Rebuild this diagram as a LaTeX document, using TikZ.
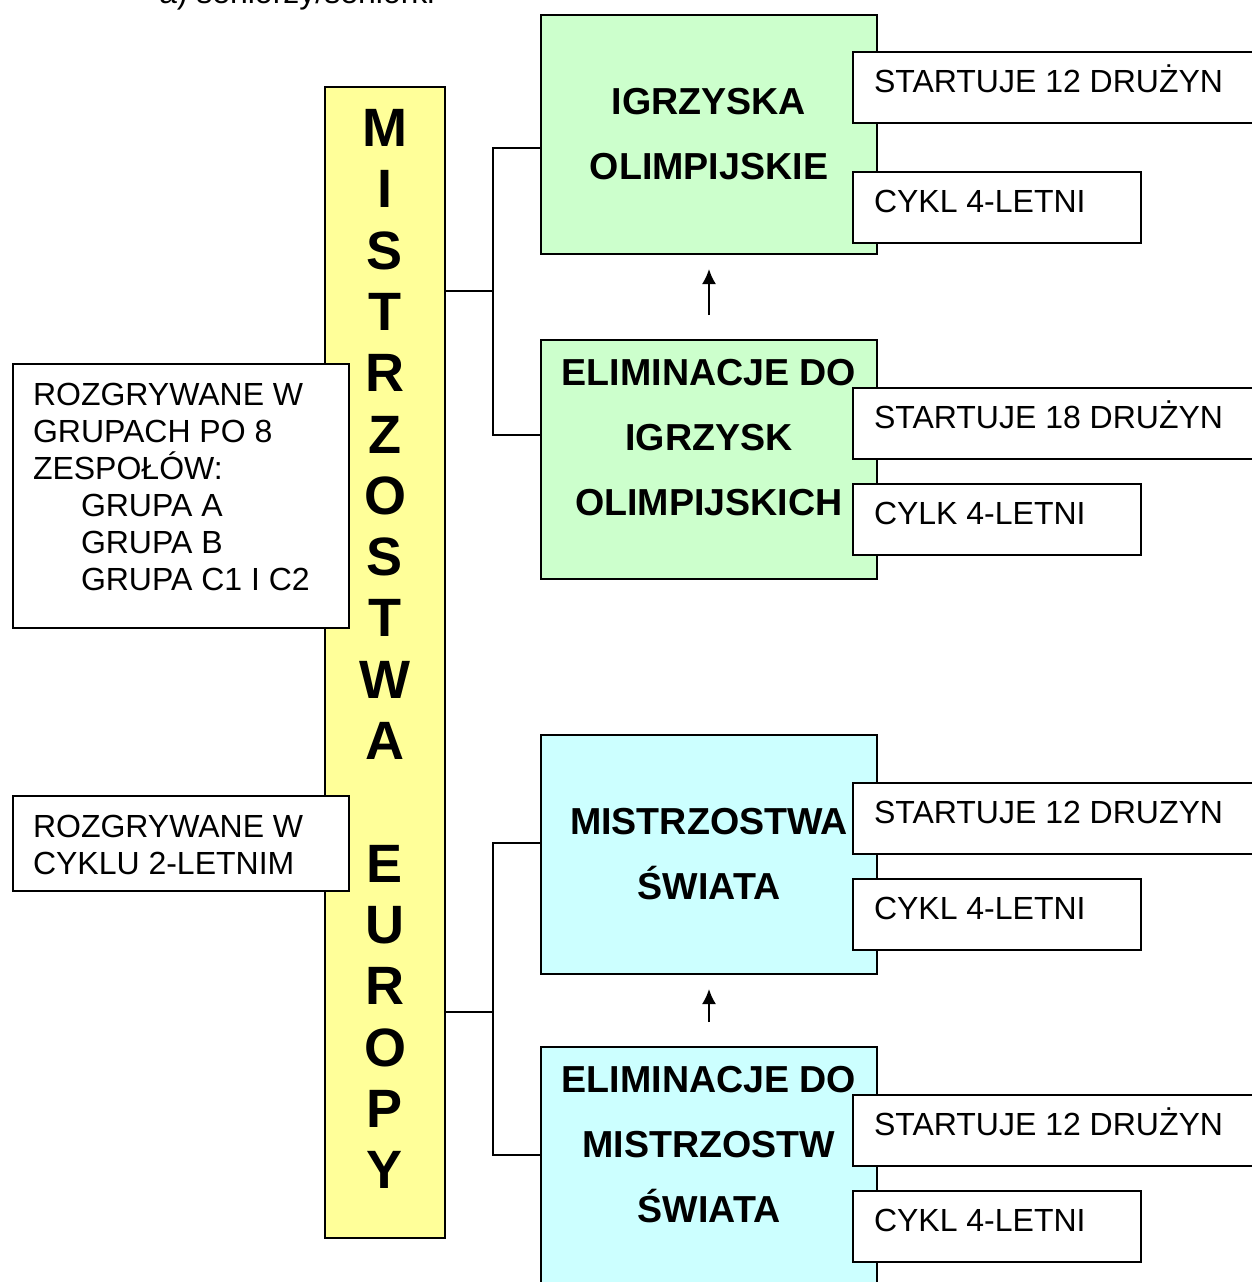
\documentclass[tikz,border=0pt]{standalone}
\usepackage{fontspec}
\setmainfont{Liberation Sans}
\usetikzlibrary{arrows,arrows.meta,positioning}
\definecolor{euyellow}{HTML}{FFFF99}
\definecolor{iogreen}{HTML}{CCFFCC}
\definecolor{mscyan}{HTML}{CCFFFF}
\tikzset{
	eubox/.style={draw=black, fill=euyellow, minimum width=60pt, minimum height=575.5pt, inner sep=0pt},
	eoletter/.style={font=\bfseries\fontsize{27}{30}\selectfont, inner sep=0pt},
	iobox/.style={draw=black, fill=iogreen, minimum width=168pt, minimum height=119.5pt, inner sep=0pt},
	msbox/.style={draw=black, fill=mscyan, minimum width=168pt, minimum height=119.5pt, inner sep=0pt},
	headtext/.style={font=\bfseries\fontsize{18.8}{32.5}\selectfont, align=center, inner sep=0pt},
	infobox/.style={draw=black, fill=white, minimum height=35.5pt, inner sep=0pt},
	infotext/.style={font=\fontsize{16}{18.5}\selectfont, inner sep=0pt, anchor=base west},
	notebox/.style={draw=black, fill=white, minimum width=168pt, inner sep=0pt},
	notetext/.style={font=\fontsize{16}{18.5}\selectfont, align=left, inner sep=0pt, anchor=north west},
	uparrow/.style={-{Latex[length=7.5pt,width=7pt]}},
}
\begin{document}
\begin{tikzpicture}[x=0.5pt, y=-0.5pt, line width=1pt]
	\useasboundingbox (0,0) rectangle (1252,1282);
	% title, cut off by the page
	\node[font=\fontsize{16}{18.5}\selectfont, inner sep=0pt, anchor=base west] (title) at (158,3) {a) seniorzy/seniorki};
	% yellow column
	\node[eubox] (eu) at (385,662.5) {};
	\foreach \l [count=\i from 0] in {M,I,S,T,R,Z,O,S,T,W,A,{},E,U,R,O,P,Y}
		\node[eoletter] (eul\i) at (385,128+61.3*\i) {\l};
	% notes on the left
	\node[notebox, minimum height=132pt] (grp) at (181,496) {};
	\node[notetext] (grpt) at (32,382) {ROZGRYWANE W\\GRUPACH PO 8\\ZESPOŁÓW:\\
		\hspace*{24pt}GRUPA A\\\hspace*{24pt}GRUPA B\\\hspace*{24pt}GRUPA C1 I C2};
	\node[notebox, minimum height=47.5pt] (cyc) at (181,843.5) {};
	\node[notetext] (cyct) at (32,814) {ROZGRYWANE W\\CYKLU 2-LETNIM};
	% olympic branch
	\node[iobox] (io) at (709,134.5) {};
	\node[headtext] (iot) at (io.center) {IGRZYSKA\\OLIMPIJSKIE};
	\node[iobox] (eio) at (709,459.5) {};
	\node[headtext, anchor=north] (eiot) at (709,358.5) {ELIMINACJE DO\\IGRZYSK\\OLIMPIJSKICH};
	\draw[uparrow] ([yshift=12pt]eio.north) -- ([yshift=-7pt]io.south);
	% world branch
	\node[msbox] (ms) at (709,854.5) {};
	\node[headtext] (mst) at (ms.center) {MISTRZOSTWA\\ŚWIATA};
	\node[msbox] (ems) at (709,1166.5) {};
	\node[headtext, anchor=north] (emst) at (709,1065.5) {ELIMINACJE DO\\MISTRZOSTW\\ŚWIATA};
	\draw[uparrow] ([yshift=12pt]ems.north) -- ([yshift=-7pt]ms.south);
	% info boxes
	\node[infobox, minimum width=204.5pt] (io1) at (1057.5,87.5) {};
	\node[infotext] (io1t) at (873,92) {STARTUJE 12 DRUŻYN};
	\node[infobox, minimum width=144pt] (io2) at (997,207.5) {};
	\node[infotext] (io2t) at (873,212) {CYKL 4-LETNI};
	\node[infobox, minimum width=204.5pt] (eio1) at (1057.5,423.5) {};
	\node[infotext] (eio1t) at (873,428) {STARTUJE 18 DRUŻYN};
	\node[infobox, minimum width=144pt] (eio2) at (997,519.5) {};
	\node[infotext] (eio2t) at (873,524) {CYLK 4-LETNI};
	\node[infobox, minimum width=204.5pt] (ms1) at (1057.5,818.5) {};
	\node[infotext] (ms1t) at (873,823) {STARTUJE 12 DRUZYN};
	\node[infobox, minimum width=144pt] (ms2) at (997,914.5) {};
	\node[infotext] (ms2t) at (873,919) {CYKL 4-LETNI};
	\node[infobox, minimum width=204.5pt] (ems1) at (1057.5,1130.5) {};
	\node[infotext] (ems1t) at (873,1135) {STARTUJE 12 DRUŻYN};
	\node[infobox, minimum width=144pt] (ems2) at (997,1226.5) {};
	\node[infotext] (ems2t) at (873,1231) {CYKL 4-LETNI};
	% brackets
	\coordinate (jio) at (493,291);
	\coordinate (jms) at (493,1012);
	\draw (eu.east |- jio) -- (jio);
	\draw (io.west |- 0,148) -| (jio) |- (eio.west |- 0,435);
	\draw (eu.east |- jms) -- (jms);
	\draw (ms.west |- 0,843) -| (jms) |- (ems.west |- 0,1155);
\end{tikzpicture}
\end{document}
